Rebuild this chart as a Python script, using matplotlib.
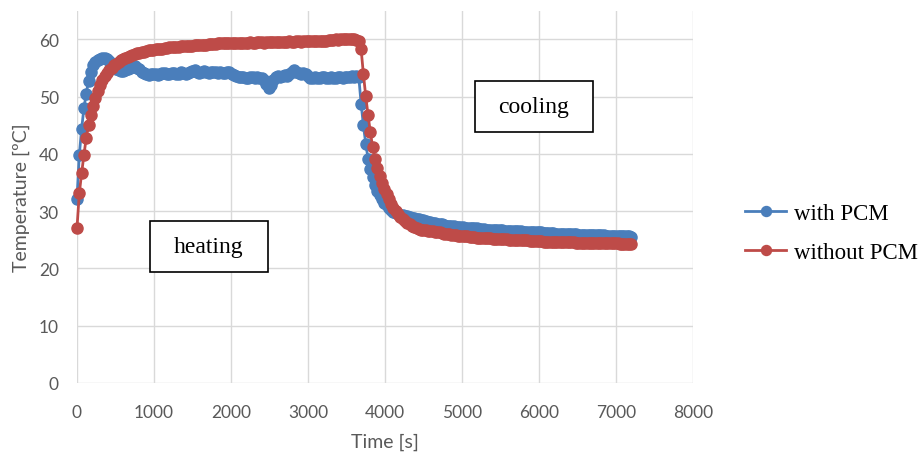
import numpy as np
import matplotlib.pyplot as plt
from matplotlib.patches import Rectangle

# logger step [s]
step = 30
time_s = np.arange(0, 7201, step)

# Temperature [ºC], one value every 30 s (10 values per row = 300 s)
with_pcm = [
    32.2, 39.8, 44.3, 48.0, 50.5, 52.8, 54.4, 55.5, 56.1, 56.4,
    56.6, 56.8, 56.8, 56.6, 56.2, 55.7, 55.2, 54.8, 54.6, 54.5,
    54.5, 54.6, 54.8, 55.0, 55.2, 55.3, 55.1, 54.8, 54.4, 54.1,
    53.9, 53.8, 53.9, 54.0, 53.9, 53.8, 54.0, 54.2, 54.1, 53.9,
    54.0, 54.2, 54.1, 53.9, 54.0, 54.3, 54.2, 54.0, 54.1, 54.3,
    54.5, 54.6, 54.4, 54.2, 54.3, 54.5, 54.4, 54.2, 54.3, 54.4,
    54.3, 54.2, 54.3, 54.1, 54.2, 54.4, 54.3, 54.0, 53.8, 53.6,
    53.5, 53.4, 53.5, 53.3, 53.2, 53.4, 53.5, 53.3, 53.4, 53.2,
    53.3, 53.0, 52.3, 51.5, 52.0, 53.0, 53.5, 53.7, 53.4, 53.6,
    53.8, 53.6, 53.9, 54.3, 54.6, 54.4, 54.1, 53.9, 54.2, 54.0,
    53.6, 53.3, 53.2, 53.4, 53.3, 53.2, 53.4, 53.5, 53.3, 53.2,
    53.4, 53.3, 53.2, 53.4, 53.5, 53.3, 53.4, 53.5, 53.4, 53.6,
    53.5, 53.6, 53.4, 48.8, 45.0, 41.8, 39.2, 37.4, 35.9, 34.6,
    33.6, 32.8, 32.1, 31.5, 31.0, 30.6, 30.2, 29.9, 29.7, 29.5,
    29.4, 29.3, 29.2, 29.1, 29.0, 28.9, 28.8, 28.7, 28.6, 28.5,
    28.4, 28.3, 28.2, 28.1, 28.0, 27.9, 27.8, 27.7, 27.7, 27.6,
    27.5, 27.5, 27.4, 27.4, 27.3, 27.3, 27.2, 27.2, 27.1, 27.1,
    27.1, 27.0, 27.0, 27.0, 26.9, 26.9, 26.9, 26.8, 26.8, 26.8,
    26.8, 26.7, 26.7, 26.7, 26.7, 26.6, 26.6, 26.6, 26.6, 26.5,
    26.5, 26.5, 26.5, 26.4, 26.4, 26.4, 26.4, 26.3, 26.3, 26.3,
    26.3, 26.3, 26.2, 26.2, 26.2, 26.2, 26.2, 26.1, 26.1, 26.1,
    26.1, 26.1, 26.0, 26.0, 26.0, 26.0, 26.0, 25.9, 25.9, 25.9,
    25.9, 25.9, 25.9, 25.8, 25.8, 25.8, 25.8, 25.8, 25.8, 25.7,
    25.7, 25.7, 25.7, 25.7, 25.6, 25.6, 25.6, 25.6, 25.6, 25.6,
    25.5,
]

without_pcm = [
    27.0, 33.1, 36.6, 39.8, 42.8, 45.0, 46.8, 48.4, 49.8, 51.0,
    52.0, 52.9, 53.6, 54.2, 54.7, 55.1, 55.5, 55.8, 56.1, 56.4,
    56.6, 56.8, 57.0, 57.2, 57.3, 57.5, 57.6, 57.7, 57.8, 57.9,
    58.0, 58.1, 58.1, 58.2, 58.3, 58.3, 58.4, 58.4, 58.5, 58.5,
    58.6, 58.6, 58.6, 58.7, 58.7, 58.8, 58.8, 58.8, 58.9, 58.9,
    58.9, 59.0, 59.0, 59.0, 59.1, 59.1, 59.1, 59.2, 59.2, 59.2,
    59.2, 59.3, 59.3, 59.3, 59.3, 59.3, 59.4, 59.3, 59.3, 59.4,
    59.4, 59.4, 59.3, 59.4, 59.4, 59.5, 59.4, 59.4, 59.5, 59.5,
    59.5, 59.4, 59.5, 59.5, 59.6, 59.5, 59.5, 59.6, 59.6, 59.5,
    59.6, 59.6, 59.7, 59.6, 59.6, 59.7, 59.7, 59.6, 59.7, 59.7,
    59.7, 59.8, 59.7, 59.7, 59.8, 59.8, 59.7, 59.8, 59.8, 59.9,
    59.9, 59.9, 60.0, 59.9, 60.0, 60.0, 60.0, 60.1, 60.0, 60.0,
    60.0, 59.9, 59.7, 58.3, 53.9, 50.1, 46.8, 43.8, 41.2, 39.1,
    37.6, 36.2, 35.0, 33.9, 33.0, 32.1, 31.3, 30.6, 30.0, 29.5,
    29.0, 28.6, 28.3, 28.0, 27.7, 27.5, 27.3, 27.1, 26.9, 26.8,
    26.8, 26.7, 26.6, 26.5, 26.5, 26.4, 26.3, 26.3, 26.2, 26.1,
    26.0, 26.0, 25.9, 25.8, 25.8, 25.7, 25.7, 25.6, 25.6, 25.6,
    25.5, 25.5, 25.5, 25.4, 25.4, 25.4, 25.3, 25.3, 25.3, 25.3,
    25.2, 25.2, 25.2, 25.1, 25.1, 25.1, 25.1, 25.0, 25.0, 25.0,
    25.0, 24.9, 24.9, 24.9, 24.9, 24.9, 24.8, 24.8, 24.8, 24.8,
    24.8, 24.8, 24.7, 24.7, 24.7, 24.7, 24.7, 24.7, 24.6, 24.6,
    24.6, 24.6, 24.6, 24.6, 24.6, 24.6, 24.5, 24.5, 24.5, 24.5,
    24.5, 24.5, 24.5, 24.5, 24.5, 24.4, 24.4, 24.4, 24.4, 24.4,
    24.4, 24.4, 24.4, 24.4, 24.4, 24.3, 24.3, 24.3, 24.3, 24.3,
    24.3,
]

x_ticks = [0, 1000, 2000, 3000, 4000, 5000, 6000, 7000, 8000]
y_ticks = [0, 10, 20, 30, 40, 50, 60]

blue = '#4A7EBB'
red = '#BE4B48'
grey_text = '#595959'
serif = ['Liberation Serif', 'DejaVu Serif']

fig = plt.figure(figsize=(9.24, 4.56), dpi=100)
ax = fig.add_axes([0.0833, 0.158, 0.6667, 0.816])

ax.plot(time_s, with_pcm, color=blue, lw=2, marker='o', ms=8, mec=blue,
        label='with PCM', clip_on=False)
ax.plot(time_s, without_pcm, color=red, lw=2, marker='o', ms=8, mec=red,
        label='without PCM', clip_on=False)

ax.set_xlim(0, 8000)
ax.set_ylim(0, 65)
ax.set_xticks(x_ticks)
ax.set_yticks(y_ticks)
ax.grid(True, color='#D9D9D9', lw=1)
ax.set_axisbelow(True)
for s in ax.spines.values():
    s.set_visible(False)
ax.tick_params(length=0, labelcolor=grey_text, labelsize=12.5)
ax.tick_params(axis='x', pad=15)
ax.tick_params(axis='y', pad=13)
for lab in ax.get_xticklabels() + ax.get_yticklabels():
    lab.set_family('Lato')

ax.set_xlabel('Time [s]', family='Lato', fontsize=14, color=grey_text, labelpad=9)
ax.set_ylabel('Temperature [ºC]', family='Lato', fontsize=14, color=grey_text, labelpad=6)

# phase labels in boxes
for (x0, y0), word in [((150, 273), 'heating'), ((475, 133), 'cooling')]:
    fx, fy = x0 / 924, 1 - y0 / 456
    fig.patches.append(Rectangle((fx, fy), 118 / 924, 51 / 456, transform=fig.transFigure,
                                 fill=True, fc='white', ec='black', lw=1.2, zorder=5))
    fig.text(fx + 59 / 924, fy + 25.5 / 456, word, ha='center', va='center',
             family=serif, fontsize=17, zorder=6)

leg = fig.legend(loc='center left', bbox_to_anchor=(745 / 924, 1 - 234 / 456),
                 frameon=False, prop={'family': serif, 'size': 16.5},
                 handlelength=1.8, handletextpad=0.35, labelspacing=0.8,
                 borderpad=0, borderaxespad=0, markerscale=0.9)

fig.savefig('out.png', dpi=100)
